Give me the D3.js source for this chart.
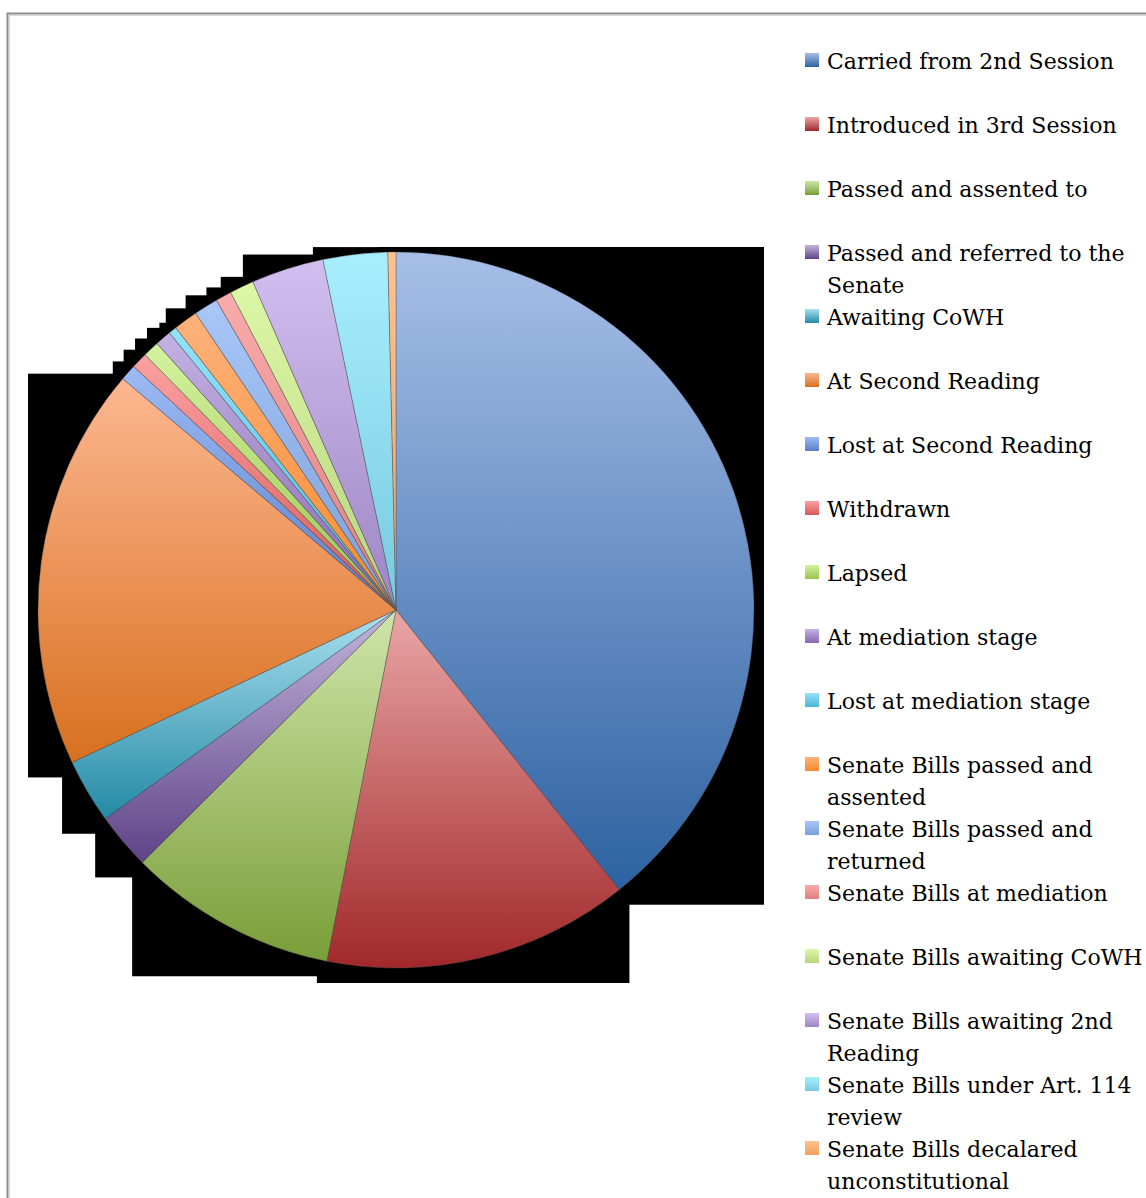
<!DOCTYPE html>
<html>
<head>
<meta charset="utf-8">
<script src="https://cdn.jsdelivr.net/npm/d3@7"></script>
<style>
  html, body { margin: 0; padding: 0; background: #fff; }
  svg { display: block; }
</style>
</head>
<body>
<svg id="chart" width="1146" height="1198"></svg>
<script>
// ---- data ----
const categories = [
  "Carried from 2nd Session",
  "Introduced in 3rd Session",
  "Passed and assented to",
  "Passed and referred to the Senate",
  "Awaiting CoWH",
  "At Second Reading",
  "Lost at Second Reading",
  "Withdrawn",
  "Lapsed",
  "At mediation stage",
  "Lost at mediation stage",
  "Senate Bills passed and assented",
  "Senate Bills passed and returned",
  "Senate Bills at mediation",
  "Senate Bills awaiting CoWH",
  "Senate Bills awaiting 2nd Reading",
  "Senate Bills under Art. 114 review",
  "Senate Bills decalared unconstitutional"
];
const values = [108, 38, 26, 7, 8, 50, 2, 2, 2, 2, 1, 3, 3, 2, 3, 9, 8, 1];
const colorTop = ["#a7bfe8","#eaa6a6","#cfe5aa","#c4b5db","#aae0f0","#fdb791",
                  "#9dbbf5","#fba1a1","#d3f29f","#c3b2e3","#94e2fa","#fdb27b",
                  "#a9c7f8","#f9abab","#ddf7a8","#d2bff0","#a8effd","#ffc28f"];
const colorBottom = ["#2d62a1","#a1282a","#7a9e38","#5e4388","#2389a5","#d8701f",
                     "#5a7fc8","#d85858","#9cc450","#8868b0","#4cb5d4","#f88a2e",
                     "#7b9ed8","#e07f7f","#b8d47e","#9d85c4","#78c9e0","#f0a060"];

// ---- layout ----
const W = 1146, H = 1198;
const cx = 396, cy = 610, R = 358;
const svg = d3.select("#chart");
const defs = svg.append("defs");

categories.forEach((c, i) => {
  const g = defs.append("linearGradient")
    .attr("id", "grad" + i)
    .attr("x1", 0).attr("y1", 0).attr("x2", 0).attr("y2", 1);
  g.append("stop").attr("offset", "0%").attr("stop-color", colorTop[i]);
  g.append("stop").attr("offset", "100%").attr("stop-color", colorBottom[i]);
});

// frame
svg.append("rect")
  .attr("x", 7.5).attr("y", 13.5)
  .attr("width", W + 20).attr("height", H + 20)
  .attr("fill", "none").attr("stroke", "#8c8c8c").attr("stroke-width", 2);
svg.append("rect")
  .attr("x", 9.5).attr("y", 15.5)
  .attr("width", W + 20).attr("height", H + 20)
  .attr("fill", "none").attr("stroke", "#d9d9d9").attr("stroke-width", 1);

const pie = d3.pie().sort(null).value(d => d)(values);
const arc = d3.arc().innerRadius(0).outerRadius(R);

const shadowG = svg.append("g");
const pieG = svg.append("g").attr("transform", `translate(${cx},${cy})`);

const paths = pieG.selectAll("path")
  .data(pie)
  .join("path")
  .attr("d", arc)
  .attr("fill", (d, i) => `url(#grad${i})`)
  .attr("stroke", "rgba(80,80,80,0.55)")
  .attr("stroke-width", 0.7);

// black block shadows behind every slice (bounding box of each slice)
paths.each(function() {
  const b = this.getBBox();
  shadowG.append("rect")
    .attr("x", cx + b.x - 10)
    .attr("y", cy + b.y - 5)
    .attr("width", b.width + 20)
    .attr("height", b.height + 20)
    .attr("fill", "#000");
});

// ---- legend ----
const legendX = 827, legendY0 = 69, legendStep = 64, lineH = 31.5;
const fontFamily = "'DejaVu Serif', 'Liberation Serif', serif";
// size the font so the first label has the reference width
const probe = svg.append("text").attr("font-family", fontFamily)
  .attr("font-size", 100).text(categories[0]);
const pw = probe.node().getComputedTextLength();
probe.remove();
const fontSize = Math.min(24, 100 * 287 / pw);

const maxW = 316;
const legend = svg.append("g");
categories.forEach((c, i) => {
  const y = legendY0 + i * legendStep;
  legend.append("rect")
    .attr("x", 805).attr("y", y - 16)
    .attr("width", 14).attr("height", 14)
    .attr("fill", `url(#grad${i})`);
  const t = legend.append("text")
    .attr("x", legendX).attr("y", y)
    .attr("font-family", fontFamily)
    .attr("font-size", fontSize)
    .attr("fill", "#000");
  // greedy word wrap
  const words = c.split(" ");
  let line = [];
  let lineNo = 0;
  let ts = t.append("tspan").attr("x", legendX).attr("y", y);
  words.forEach(w => {
    line.push(w);
    ts.text(line.join(" "));
    if (ts.node().getComputedTextLength() > maxW && line.length > 1) {
      line.pop();
      ts.text(line.join(" "));
      line = [w];
      lineNo++;
      ts = t.append("tspan").attr("x", legendX).attr("y", y + lineNo * lineH).text(w);
    }
  });
});
</script>
</body>
</html>
